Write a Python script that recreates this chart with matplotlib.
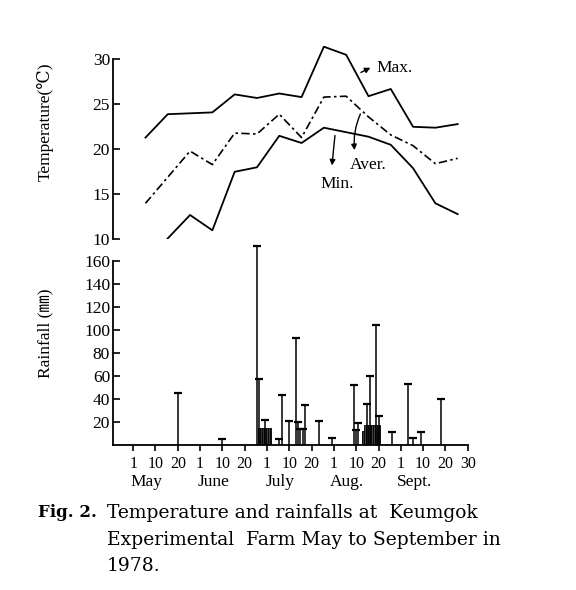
import numpy as np
import matplotlib.pyplot as plt

plt.rcParams['font.family'] = ['Liberation Serif', 'DejaVu Serif', 'Noto Sans CJK JP']

# temperature, one value per 10-day period, May 1 - Sept 30
t_max = [21.3, 23.9, 24.0, 24.1, 26.1, 25.7, 26.2, 25.8, 31.4, 30.5, 25.9, 26.7, 22.5, 22.4, 22.8]
t_aver = [14.0, 16.9, 19.8, 18.3, 21.8, 21.7, 23.9, 21.3, 25.8, 25.9, 23.6, 21.6, 20.4, 18.4, 19.0]
t_min = [7.0, 10.1, 12.7, 11.0, 17.5, 18.0, 21.5, 20.7, 22.4, 21.9, 21.4, 20.5, 17.9, 14.0, 12.8]

# daily rainfall (days counted from May 1)
rain_day = [19, 40, 56, 57, 60, 66, 67, 70, 73, 74, 75, 76, 77, 84, 91,
            100, 101, 102, 106, 107, 110, 111, 118, 126, 128, 131, 140]
rain_mm = [45, 5, 173, 57, 22, 5, 43, 21, 93, 20, 14, 14, 35, 21, 6,
           52, 13, 19, 36, 60, 104, 25, 11, 53, 6, 11, 40]
# shaded blocks of rainy days
block_day = [57, 58, 59, 60, 61, 62, 104, 105, 106, 107, 108, 109, 110, 111]
block_mm = [15, 15, 15, 15, 15, 15, 12, 17, 17, 17, 17, 17, 17, 17]

tick_day = [0, 9, 19, 31, 40, 50, 61, 70, 80, 92, 101, 111, 123, 132, 142, 152]
tick_lab = ['1', '10', '20'] * 5 + ['30']
months = ['May', 'June', 'July', 'Aug.', 'Sept.']

tick_pos = np.arange(len(tick_day))
def pos(d):
    return np.interp(d, tick_day, tick_pos)

fig = plt.figure(figsize=(5.76, 5.90), dpi=100)
ax_t = fig.add_axes([0.196, 0.5944, 0.616, 0.3051])
ax_r = fig.add_axes([0.196, 0.2458, 0.616, 0.3123])

xlim = (-0.91, 15.0)

# temperature panel
tp = np.arange(15) + 0.55
ax_t.plot(tp, t_max, color='black', lw=1.3, clip_on=False)
ax_t.plot(tp, t_aver, color='black', lw=1.2, ls=(0, (5, 2, 1.5, 2)))
ax_t.plot(tp, t_min, color='black', lw=1.3)
ax_t.set_xlim(*xlim)
ax_t.set_ylim(10, 30)
ax_t.set_yticks([10, 15, 20, 25, 30])
for s in ['top', 'right', 'bottom']:
    ax_t.spines[s].set_visible(False)
ax_t.spines['left'].set_linewidth(1.3)
ax_t.set_xticks([])
ax_t.tick_params(axis='y', direction='in', length=5, width=1.2, labelsize=12.5, pad=2)

arrow = dict(arrowstyle='-|>', color='black', lw=1, mutation_scale=8)
ax_t.annotate('', xy=(10.75, 29.2), xytext=(10.1, 28.4), arrowprops=arrow)
ax_t.text(10.93, 29.0, 'Max.', fontsize=12.5, va='center')
ax_t.annotate('', xy=(8.9, 17.9), xytext=(9.06, 21.84), arrowprops=arrow)
ax_t.text(9.16, 16.2, 'Min.', fontsize=12.5, ha='center', va='center')
ax_t.annotate('', xy=(9.94, 19.6), xytext=(10.24, 24.2),
              arrowprops=dict(arrow, connectionstyle='arc3,rad=0.15'))
ax_t.text(9.71, 18.3, 'Aver.', fontsize=12.5, va='center')

# rainfall panel
ax_r.bar(pos(block_day), block_mm, width=0.1, color='#444444', edgecolor='black',
         linewidth=0.6, hatch='||')
rx = pos(rain_day)
ax_r.vlines(rx, 0, rain_mm, color='black', lw=1.1, clip_on=False)
ax_r.plot(rx, rain_mm, ls='none', marker='_', ms=6, mew=1.6, color='black', clip_on=False)
ax_r.set_xlim(*xlim)
ax_r.set_ylim(0, 160)
ax_r.set_yticks(range(20, 161, 20))
for s in ['top', 'right']:
    ax_r.spines[s].set_visible(False)
ax_r.spines['left'].set_linewidth(1.3)
ax_r.spines['bottom'].set_linewidth(1.3)
ax_r.tick_params(axis='y', direction='in', length=5, width=1.2, labelsize=12.5, pad=2)
ax_r.set_xticks(tick_pos)
ax_r.set_xticklabels(tick_lab)
ax_r.tick_params(axis='x', direction='out', length=4, width=1.2, labelsize=11.5, pad=4)
for i, m in enumerate(months):
    ax_r.text(i * 3 + 0.6, -0.2, m, transform=ax_r.get_xaxis_transform(),
              ha='center', va='center', fontsize=12.5)

fig.text(0.078, 0.793, 'Temperature(℃)', rotation=90, fontsize=12.5, ha='center', va='center')
fig.text(0.078, 0.436, 'Rainfall (㎜)', rotation=90, fontsize=12.5, ha='center', va='center')

fig.text(0.066, 0.131, 'Fig. 2.', fontsize=12, fontweight='bold', va='center',
         family='DejaVu Serif')
cap = dict(fontsize=13.5, va='center', family='DejaVu Serif')
fig.text(0.186, 0.131, 'Temperature and rainfalls at  Keumgok', **cap)
fig.text(0.186, 0.085, 'Experimental  Farm May to September in', **cap)
fig.text(0.186, 0.041, '1978.', **cap)

fig.savefig('out.png', dpi=100)
